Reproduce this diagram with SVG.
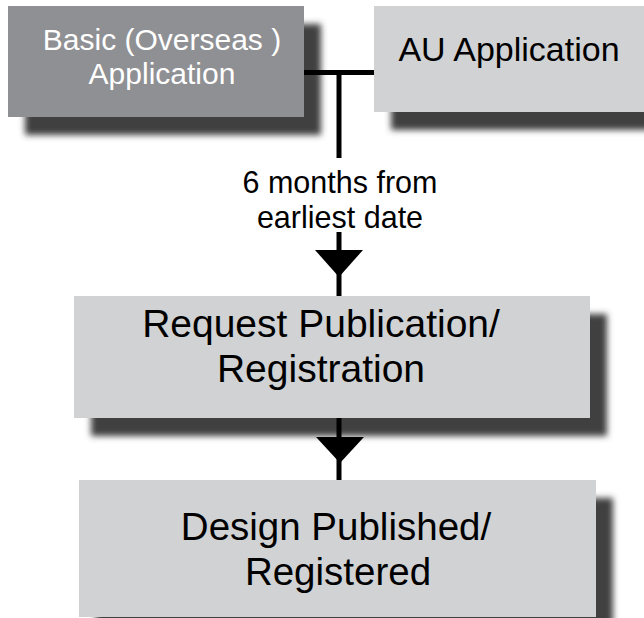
<svg xmlns="http://www.w3.org/2000/svg" width="644" height="618" viewBox="0 0 644 618">
  <defs>
    <filter id="sh" x="-10%" y="-30%" width="120%" height="160%">
      <feGaussianBlur stdDeviation="3"/>
    </filter>
    <style>
      .shadow { fill: #414141; filter: url(#sh); }
      .dark { fill: #8f9094; }
      .light { fill: #d1d2d4; }
      text { font-family: "Liberation Sans", Arial, sans-serif; text-anchor: middle; }
      .w { fill: #ffffff; font-size: 30px; }
      .b34 { fill: #000000; font-size: 34px; }
      .b39 { fill: #000000; font-size: 39px; }
      .b38 { fill: #000000; font-size: 38.5px; }
      .lbl { fill: #000000; font-size: 30.5px; }
      .ln { stroke: #000000; stroke-width: 5; fill: none; }
    </style>
  </defs>
  <rect width="644" height="618" fill="#ffffff"/>

  <g id="node-basic">
    <rect class="shadow" x="25" y="24" width="296" height="111"/>
    <rect class="dark" x="8" y="6" width="296" height="111"/>
    <text class="w" x="162" y="50">Basic (Overseas )</text>
    <text class="w" x="162" y="84">Application</text>
  </g>

  <g id="node-au">
    <rect class="shadow" x="391" y="24" width="270" height="106"/>
    <rect class="light" x="374" y="6" width="270" height="106"/>
    <text class="b34" x="509" y="61">AU Application</text>
  </g>

  <g id="node-request">
    <rect class="shadow" x="91" y="314" width="516" height="122"/>
    <rect class="light" x="74" y="296" width="516" height="122"/>
    <text class="b39" x="321" y="337">Request Publication/</text>
    <text class="b39" x="321" y="382">Registration</text>
  </g>

  <g id="node-design">
    <rect class="shadow" x="96" y="498" width="517" height="137"/>
    <rect class="light" x="79" y="480" width="517" height="137"/>
    <text class="b38" x="336" y="540">Design Published/</text>
    <text class="b38" x="338" y="585">Registered</text>
  </g>

  <g id="connectors">
    <line class="ln" x1="304" y1="72.5" x2="374" y2="72.5"/>
    <line class="ln" x1="339" y1="72.5" x2="339" y2="158"/>
    <text class="lbl" x="340" y="193">6 months from</text>
    <text class="lbl" x="340" y="228">earliest date</text>
    <line class="ln" x1="339" y1="232" x2="339" y2="296"/>
    <polygon points="315,250 363,250 339,277" fill="#000000"/>
    <line class="ln" x1="339" y1="418" x2="339" y2="480"/>
    <polygon points="316,437 364,437 340,463" fill="#000000"/>
  </g>
</svg>
